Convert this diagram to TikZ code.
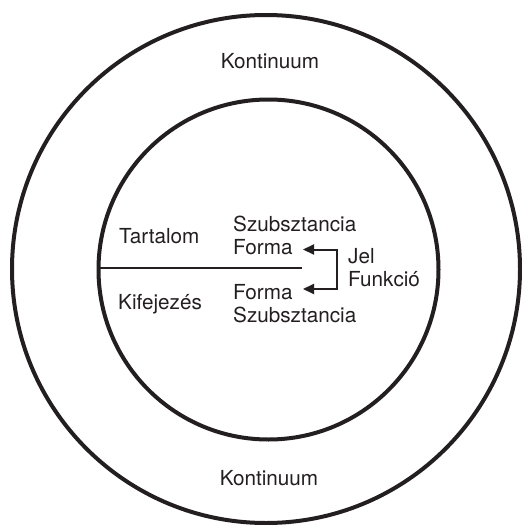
\documentclass[tikz,border=0pt]{standalone}
\usepackage{fontspec}
\setmainfont{TeX Gyre Heros}
\usetikzlibrary{arrows.meta}
\definecolor{ink}{HTML}{231F20}
\tikzset{
  ring/.style={circle, draw=ink, line width=4pt, inner sep=0pt, outer sep=0pt},
  lbl/.style={anchor=base west, inner sep=0pt, text=ink, font=\fontsize{20.7pt}{24pt}\selectfont},
  clbl/.style={anchor=base, inner sep=0pt, text=ink, font=\fontsize{20.7pt}{24pt}\selectfont},
  thin/.style={draw=ink, line width=1.5pt},
  tip/.style={{Triangle[length=11pt,width=10pt]}-{Triangle[length=11pt,width=10pt]}}
}
\begin{document}
\begin{tikzpicture}[x=1pt,y=-1pt]
\useasboundingbox (0,0) rectangle (522,525);
\node[ring, minimum size=508pt] (outer) at (266,269) {};
\node[ring, minimum size=340pt] (inner) at (268.5,269.5) {};
\node[clbl] (kontT) at (270,68) {Kontinuum};
\node[clbl] (kontB) at (269,485) {Kontinuum};
\node[lbl] (tart) at (119,243) {Tartalom};
\node[lbl] (kif) at (118,309) {Kifejezés};
\node[lbl] (szT) at (233,231.5) {Szubsztancia};
\node[lbl] (foT) at (233,254) {Forma};
\node[lbl] (foB) at (233,299) {Forma};
\node[lbl] (szB) at (233,322.5) {Szubsztancia};
\node[lbl] (jel) at (348,263) {Jel};
\node[lbl] (fun) at (348,286) {Funkció};
\coordinate (lineEnd) at (302,268);
\draw[thin] (inner.west |- lineEnd) -- (lineEnd);
\coordinate (tipT) at (303,249.5);
\coordinate (tipB) at (303,289);
\coordinate (c1) at (337,249.5);
\coordinate (c2) at (337,289);
\draw[thin, line width=2pt, tip] (tipT) -- (c1) -- (c2) -- (tipB);
\end{tikzpicture}
\end{document}
